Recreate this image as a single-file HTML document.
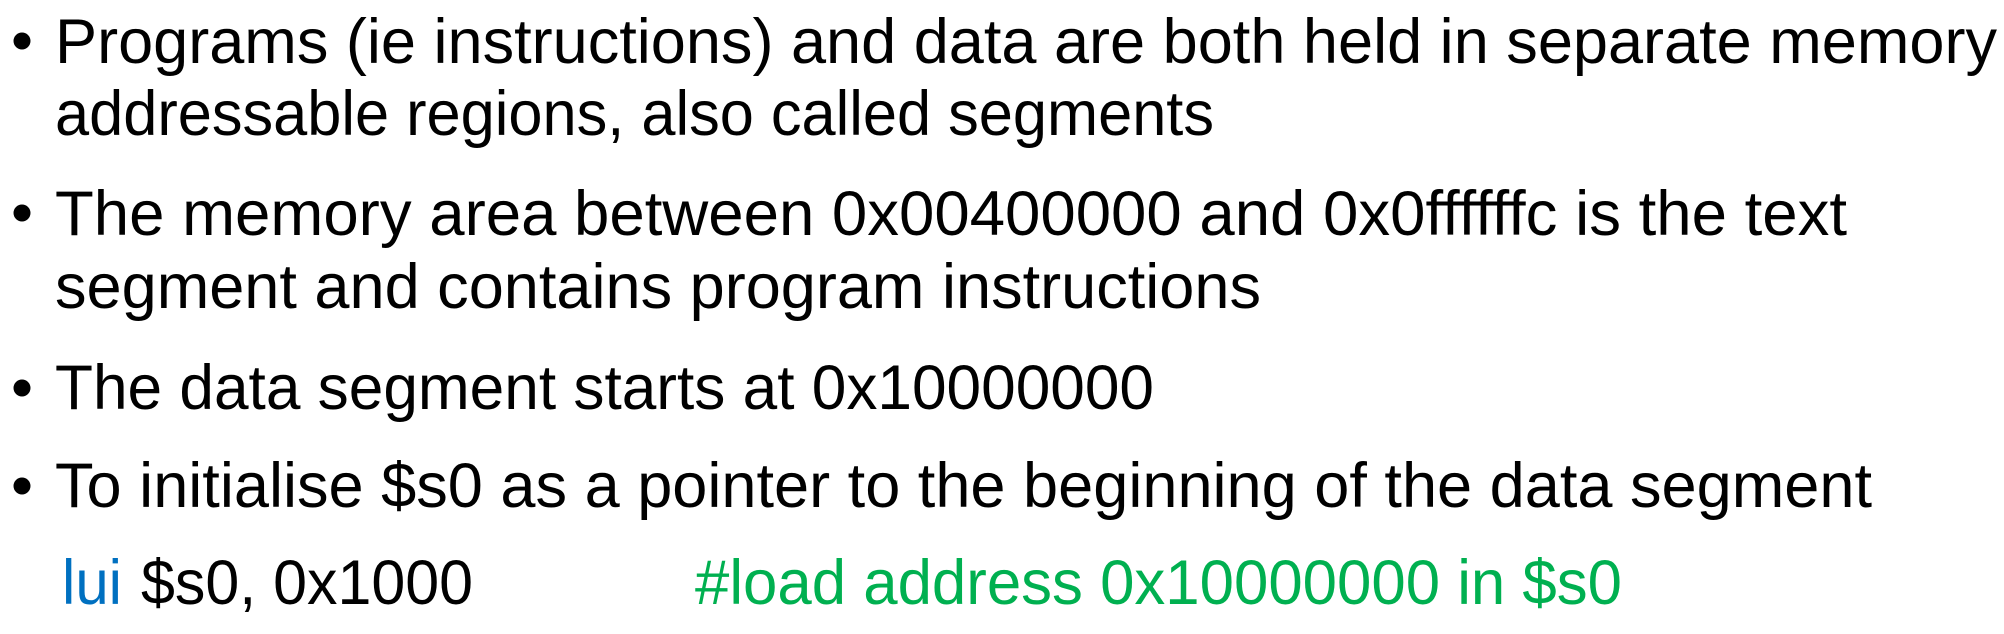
<!DOCTYPE html>
<html><head><meta charset="utf-8"><style>
html,body{margin:0;padding:0;background:#fff;width:2004px;height:634px;overflow:hidden}
svg{display:block}
text{font-family:"Liberation Sans",sans-serif;font-size:63px;fill:#000}
</style></head><body>
<svg width="2004" height="634" viewBox="0 0 2004 634" xmlns="http://www.w3.org/2000/svg">
<circle cx="22" cy="41" r="8.5" fill="#000"/>
<circle cx="22" cy="213" r="8.5" fill="#000"/>
<circle cx="22" cy="388" r="8.5" fill="#000"/>
<circle cx="22" cy="486" r="8.5" fill="#000"/>
<text x="55" y="63" textLength="1942" lengthAdjust="spacingAndGlyphs">Programs (ie instructions) and data are both held in separate memory</text>
<text x="55" y="135" textLength="1159" lengthAdjust="spacingAndGlyphs">addressable regions, also called segments</text>
<text x="55" y="235" textLength="1792" lengthAdjust="spacingAndGlyphs">The memory area between 0x00400000 and 0x0ffffffc is the text</text>
<text x="55" y="308" textLength="1206" lengthAdjust="spacingAndGlyphs">segment and contains program instructions</text>
<text x="55" y="409" textLength="1099" lengthAdjust="spacingAndGlyphs">The data segment starts at 0x10000000</text>
<text x="55" y="507" textLength="1817" lengthAdjust="spacingAndGlyphs">To initialise $s0 as a pointer to the beginning of the data segment</text>
<text x="62" y="604" textLength="60" lengthAdjust="spacingAndGlyphs" style="fill:#0070C0">lui</text>
<text x="141" y="604" textLength="332" lengthAdjust="spacingAndGlyphs">$s0, 0x1000</text>
<text x="695" y="604" textLength="927" lengthAdjust="spacingAndGlyphs" style="fill:#00B050">#load address 0x10000000 in $s0</text>
</svg>
</body></html>
